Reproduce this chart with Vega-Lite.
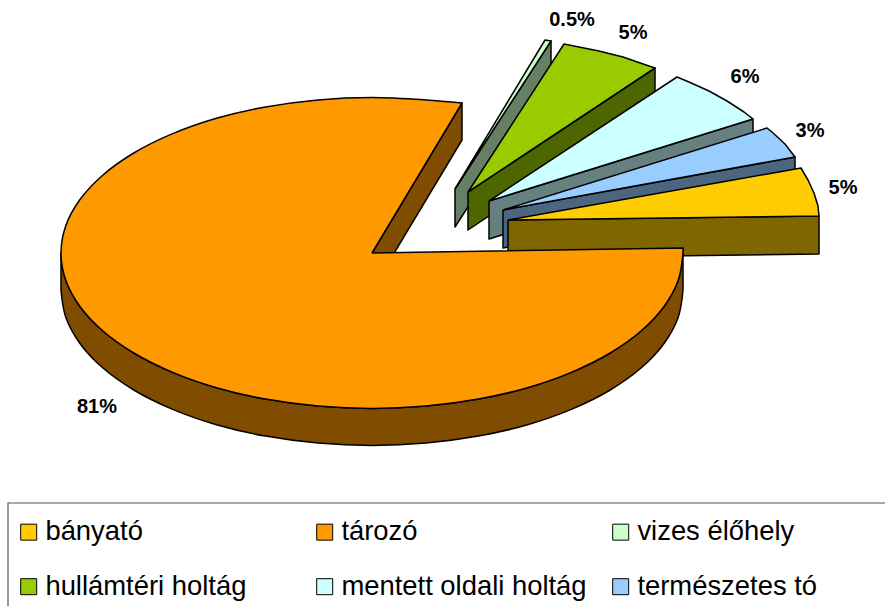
{"$schema":"https://vega.github.io/schema/vega-lite/v6.json","width":885,"height":606,"autosize":{"type":"none"},"padding":0,"background":"white","view":{"stroke":null},
"datasets":{
"slices":[
{"nev":"bányató","ertek":0.05,"cx":843,"cy":187},
{"nev":"tározó","ertek":0.81,"cx":97,"cy":406},
{"nev":"vizes élőhely","ertek":0.005,"cx":572,"cy":19},
{"nev":"hullámtéri holtág","ertek":0.05,"cx":633,"cy":32},
{"nev":"mentett oldali holtág","ertek":0.06,"cx":745,"cy":76},
{"nev":"természetes tó","ertek":0.03,"cx":810,"cy":130}],
"frame":[{"s":1,"x":8,"y":606},{"s":2,"x":8,"y":503},{"s":3,"x":885,"y":503}],
"outline":[
{"p":"a","f":"vizes élőhely oldal","s":1,"x":455,"y":189},{"p":"a","f":"vizes élőhely oldal","s":2,"x":551,"y":41},{"p":"a","f":"vizes élőhely oldal","s":3,"x":551,"y":78},{"p":"a","f":"vizes élőhely oldal","s":4,"x":455,"y":227},{"p":"a","f":"vizes élőhely oldal","s":5,"x":455,"y":189},
{"p":"b","f":"vizes élőhely","s":1,"x":455,"y":189},{"p":"b","f":"vizes élőhely","s":2,"x":551,"y":41},{"p":"b","f":"vizes élőhely","s":3,"x":545,"y":40},{"p":"b","f":"vizes élőhely","s":4,"x":455,"y":189},
{"p":"c","f":"hullámtéri holtág oldal","s":1,"x":468,"y":192},{"p":"c","f":"hullámtéri holtág oldal","s":2,"x":655,"y":68},{"p":"c","f":"hullámtéri holtág oldal","s":3,"x":655,"y":105},{"p":"c","f":"hullámtéri holtág oldal","s":4,"x":468,"y":230},{"p":"c","f":"hullámtéri holtág oldal","s":5,"x":468,"y":192},
{"p":"d","f":"hullámtéri holtág","s":1,"x":468,"y":192},{"p":"d","f":"hullámtéri holtág","s":2,"x":655,"y":68},{"p":"d","f":"hullámtéri holtág","s":3,"x":646,"y":65},{"p":"d","f":"hullámtéri holtág","s":4,"x":623,"y":57},{"p":"d","f":"hullámtéri holtág","s":5,"x":599,"y":51},{"p":"d","f":"hullámtéri holtág","s":6,"x":574,"y":46},{"p":"d","f":"hullámtéri holtág","s":7,"x":564,"y":44},{"p":"d","f":"hullámtéri holtág","s":8,"x":468,"y":192},
{"p":"e","f":"mentett oldali holtág oldal","s":1,"x":489,"y":201},{"p":"e","f":"mentett oldali holtág oldal","s":2,"x":753,"y":119},{"p":"e","f":"mentett oldali holtág oldal","s":3,"x":753,"y":156},{"p":"e","f":"mentett oldali holtág oldal","s":4,"x":489,"y":239},{"p":"e","f":"mentett oldali holtág oldal","s":5,"x":489,"y":201},
{"p":"f","f":"mentett oldali holtág","s":1,"x":489,"y":201},{"p":"f","f":"mentett oldali holtág","s":2,"x":753,"y":119},{"p":"f","f":"mentett oldali holtág","s":3,"x":744,"y":112},{"p":"f","f":"mentett oldali holtág","s":4,"x":727,"y":101},{"p":"f","f":"mentett oldali holtág","s":5,"x":709,"y":91},{"p":"f","f":"mentett oldali holtág","s":6,"x":689,"y":82},{"p":"f","f":"mentett oldali holtág","s":7,"x":677,"y":77},{"p":"f","f":"mentett oldali holtág","s":8,"x":489,"y":201},
{"p":"g","f":"természetes tó oldal","s":1,"x":503,"y":210},{"p":"g","f":"természetes tó oldal","s":2,"x":795,"y":157},{"p":"g","f":"természetes tó oldal","s":3,"x":795,"y":194},{"p":"g","f":"természetes tó oldal","s":4,"x":503,"y":248},{"p":"g","f":"természetes tó oldal","s":5,"x":503,"y":210},
{"p":"h","f":"természetes tó","s":1,"x":503,"y":210},{"p":"h","f":"természetes tó","s":2,"x":795,"y":157},{"p":"h","f":"természetes tó","s":3,"x":785,"y":144},{"p":"h","f":"természetes tó","s":4,"x":772,"y":132},{"p":"h","f":"természetes tó","s":5,"x":767,"y":128},{"p":"h","f":"természetes tó","s":6,"x":503,"y":210},
{"p":"i","f":"bányató oldal","s":1,"x":508,"y":220},{"p":"i","f":"bányató oldal","s":2,"x":819,"y":216},{"p":"i","f":"bányató oldal","s":3,"x":819,"y":254},{"p":"i","f":"bányató oldal","s":4,"x":508,"y":258},{"p":"i","f":"bányató oldal","s":5,"x":508,"y":220},
{"p":"j","f":"bányató","s":1,"x":508,"y":220},{"p":"j","f":"bányató","s":2,"x":819,"y":216},{"p":"j","f":"bányató","s":3,"x":818,"y":206},{"p":"j","f":"bányató","s":4,"x":814,"y":193},{"p":"j","f":"bányató","s":5,"x":808,"y":180},{"p":"j","f":"bányató","s":6,"x":801,"y":168},{"p":"j","f":"bányató","s":7,"x":508,"y":220},
{"p":"k","f":"tározó oldal","s":1,"x":372,"y":253},{"p":"k","f":"tározó oldal","s":2,"x":462,"y":103},{"p":"k","f":"tározó oldal","s":3,"x":462,"y":140},{"p":"k","f":"tározó oldal","s":4,"x":372,"y":290},{"p":"k","f":"tározó oldal","s":5,"x":372,"y":253}],
"mainOutline":[
{"p":"l","f":"tározó oldal","s":1,"x":683,"y":248},{"p":"l","f":"tározó oldal","s":1.5,"x":683,"y":248},{"p":"l","f":"tározó oldal","s":2,"x":683,"y":253},{"p":"l","f":"tározó oldal","s":2.5,"x":683,"y":253},{"p":"l","f":"tározó oldal","s":3,"x":678.3,"y":280},{"p":"l","f":"tározó oldal","s":4,"x":664.2,"y":306.2},{"p":"l","f":"tározó oldal","s":5,"x":641.3,"y":330.8},{"p":"l","f":"tározó oldal","s":6,"x":610.2,"y":353},{"p":"l","f":"tározó oldal","s":7,"x":571.9,"y":372.1},{"p":"l","f":"tározó oldal","s":8,"x":527.5,"y":387.7},{"p":"l","f":"tározó oldal","s":9,"x":478.4,"y":399.1},{"p":"l","f":"tározó oldal","s":10,"x":426,"y":406.1},{"p":"l","f":"tározó oldal","s":11,"x":372,"y":408.5},{"p":"l","f":"tározó oldal","s":12,"x":318,"y":406.1},{"p":"l","f":"tározó oldal","s":13,"x":265.6,"y":399.1},{"p":"l","f":"tározó oldal","s":14,"x":216.5,"y":387.7},{"p":"l","f":"tározó oldal","s":15,"x":172.1,"y":372.1},{"p":"l","f":"tározó oldal","s":16,"x":133.8,"y":353},{"p":"l","f":"tározó oldal","s":17,"x":102.7,"y":330.8},{"p":"l","f":"tározó oldal","s":18,"x":79.8,"y":306.2},{"p":"l","f":"tározó oldal","s":19,"x":65.7,"y":280},{"p":"l","f":"tározó oldal","s":20,"x":61,"y":253},{"p":"l","f":"tározó oldal","s":20.5,"x":61,"y":253},{"p":"l","f":"tározó oldal","s":21,"x":61,"y":290},{"p":"l","f":"tározó oldal","s":21.5,"x":61,"y":290},{"p":"l","f":"tározó oldal","s":22,"x":65.7,"y":317},{"p":"l","f":"tározó oldal","s":23,"x":79.8,"y":343.2},{"p":"l","f":"tározó oldal","s":24,"x":102.7,"y":367.8},{"p":"l","f":"tározó oldal","s":25,"x":133.8,"y":390},{"p":"l","f":"tározó oldal","s":26,"x":172.1,"y":409.1},{"p":"l","f":"tározó oldal","s":27,"x":216.5,"y":424.7},{"p":"l","f":"tározó oldal","s":28,"x":265.6,"y":436.1},{"p":"l","f":"tározó oldal","s":29,"x":318,"y":443.1},{"p":"l","f":"tározó oldal","s":30,"x":372,"y":445.5},{"p":"l","f":"tározó oldal","s":31,"x":426,"y":443.1},{"p":"l","f":"tározó oldal","s":32,"x":478.4,"y":436.1},{"p":"l","f":"tározó oldal","s":33,"x":527.5,"y":424.7},{"p":"l","f":"tározó oldal","s":34,"x":571.9,"y":409.1},{"p":"l","f":"tározó oldal","s":35,"x":610.2,"y":390},{"p":"l","f":"tározó oldal","s":36,"x":641.3,"y":367.8},{"p":"l","f":"tározó oldal","s":37,"x":664.2,"y":343.2},{"p":"l","f":"tározó oldal","s":38,"x":678.3,"y":317},{"p":"l","f":"tározó oldal","s":39,"x":683,"y":290},{"p":"l","f":"tározó oldal","s":39.5,"x":683,"y":290},{"p":"l","f":"tározó oldal","s":40,"x":683,"y":248},{"p":"l","f":"tározó oldal","s":40.5,"x":683,"y":248},
{"p":"m","f":"tározó","s":1,"x":372,"y":253},{"p":"m","f":"tározó","s":1.5,"x":372,"y":253},{"p":"m","f":"tározó","s":2,"x":683,"y":248},{"p":"m","f":"tározó","s":2.5,"x":683,"y":248},{"p":"m","f":"tározó","s":3,"x":683,"y":253},{"p":"m","f":"tározó","s":4,"x":678.3,"y":280},{"p":"m","f":"tározó","s":5,"x":664.2,"y":306.2},{"p":"m","f":"tározó","s":6,"x":641.3,"y":330.8},{"p":"m","f":"tározó","s":7,"x":610.2,"y":353},{"p":"m","f":"tározó","s":8,"x":571.9,"y":372.1},{"p":"m","f":"tározó","s":9,"x":527.5,"y":387.7},{"p":"m","f":"tározó","s":10,"x":478.4,"y":399.1},{"p":"m","f":"tározó","s":11,"x":426,"y":406.1},{"p":"m","f":"tározó","s":12,"x":372,"y":408.5},{"p":"m","f":"tározó","s":13,"x":318,"y":406.1},{"p":"m","f":"tározó","s":14,"x":265.6,"y":399.1},{"p":"m","f":"tározó","s":15,"x":216.5,"y":387.7},{"p":"m","f":"tározó","s":16,"x":172.1,"y":372.1},{"p":"m","f":"tározó","s":17,"x":133.8,"y":353},{"p":"m","f":"tározó","s":18,"x":102.7,"y":330.8},{"p":"m","f":"tározó","s":19,"x":79.8,"y":306.2},{"p":"m","f":"tározó","s":20,"x":65.7,"y":280},{"p":"m","f":"tározó","s":21,"x":61,"y":253},{"p":"m","f":"tározó","s":22,"x":65.7,"y":226},{"p":"m","f":"tározó","s":23,"x":79.8,"y":199.8},{"p":"m","f":"tározó","s":24,"x":102.7,"y":175.2},{"p":"m","f":"tározó","s":25,"x":133.8,"y":153},{"p":"m","f":"tározó","s":26,"x":172.1,"y":133.9},{"p":"m","f":"tározó","s":27,"x":216.5,"y":118.3},{"p":"m","f":"tározó","s":28,"x":265.6,"y":106.9},{"p":"m","f":"tározó","s":29,"x":318,"y":99.9},{"p":"m","f":"tározó","s":30,"x":372,"y":97.5},{"p":"m","f":"tározó","s":31,"x":426,"y":99.9},{"p":"m","f":"tározó","s":32,"x":462,"y":103},{"p":"m","f":"tározó","s":32.5,"x":462,"y":103},{"p":"m","f":"tározó","s":33,"x":372,"y":253},{"p":"m","f":"tározó","s":33.5,"x":372,"y":253}
]},
"layer":[
{"data":{"name":"outline"},"mark":{"type":"line","stroke":"black","strokeWidth":1.5,"strokeJoin":"round","interpolate":"linear"},
"encoding":{
"x":{"field":"x","type":"quantitative","scale":{"domain":[0,885],"nice":false,"zero":false},"axis":null},
"y":{"field":"y","type":"quantitative","scale":{"domain":[606,0],"nice":false,"zero":false},"axis":null},
"order":{"field":"s","type":"quantitative"},
"detail":{"field":"p"},
"fill":{"field":"f","type":"nominal","scale":{"domain":["bányató","tározó","vizes élőhely","hullámtéri holtág","mentett oldali holtág","természetes tó","bányató oldal","tározó oldal","vizes élőhely oldal","hullámtéri holtág oldal","mentett oldali holtág oldal","természetes tó oldal"],"range":["#FFCC00","#FF9900","#CCFFCC","#99CC00","#CCFFFF","#99CCFF","#806600","#804D00","#668066","#4D6600","#668080","#4D6680"]},
"legend":{"values":["bányató","tározó","vizes élőhely","hullámtéri holtág","mentett oldali holtág","természetes tó"],"title":null,"orient":"none","direction":"horizontal","legendX":15,"legendY":518,"columns":3,"gridAlign":"all","columnPadding":20,"rowPadding":26,"padding":0,"symbolType":"square","symbolSize":256,"symbolStrokeColor":"black","symbolStrokeWidth":1,"symbolOpacity":1,"labelFont":"Liberation Sans","labelFontSize":27.4,"labelColor":"black","labelLimit":400,"labelOffset":3}}
}},
{"data":{"name":"mainOutline"},"mark":{"type":"line","stroke":"black","strokeWidth":1.5,"strokeJoin":"round","interpolate":"catmull-rom"},
"encoding":{
"x":{"field":"x","type":"quantitative"},
"y":{"field":"y","type":"quantitative"},
"order":{"field":"s","type":"quantitative"},
"detail":{"field":"p"},
"fill":{"field":"f","type":"nominal"}
}},
{"data":{"name":"frame"},"mark":{"type":"line","stroke":"#555555","strokeWidth":1.2},
"encoding":{"x":{"field":"x","type":"quantitative"},"y":{"field":"y","type":"quantitative"},"order":{"field":"s","type":"quantitative"}}},
{"data":{"name":"slices"},"mark":{"type":"text","font":"Liberation Sans","fontWeight":"bold","fontSize":20,"dy":1,"color":"black","align":"center","baseline":"middle"},
"encoding":{"x":{"field":"cx","type":"quantitative"},"y":{"field":"cy","type":"quantitative"},"text":{"field":"ertek","type":"quantitative","format":".1~%"}}}
]}
